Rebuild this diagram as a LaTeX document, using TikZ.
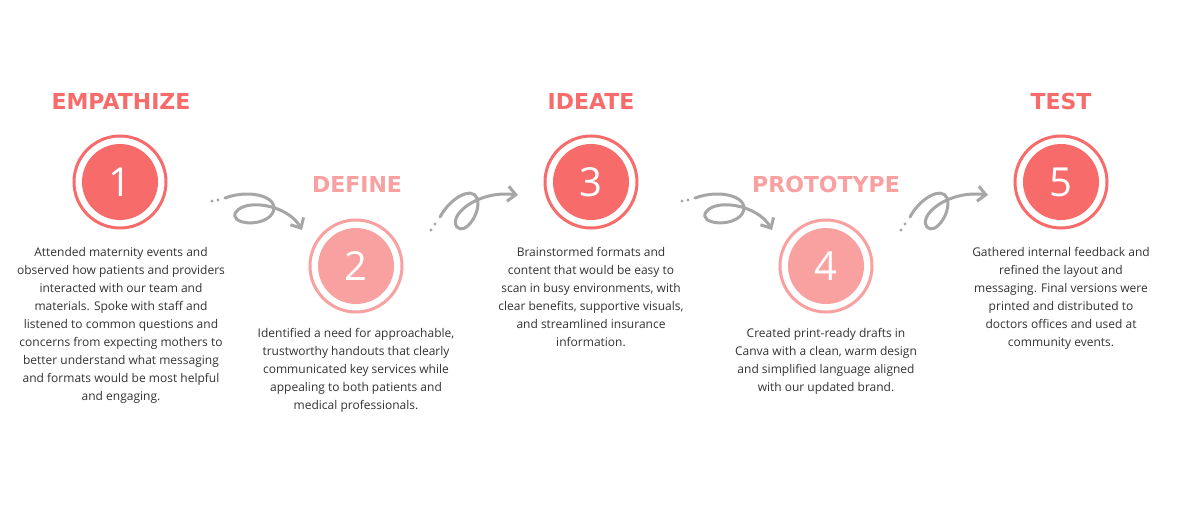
\documentclass[tikz,border=0pt]{standalone}
\usepackage{fontspec}
\setmainfont{Open Sans}
\newfontfamily\headfont{DejaVu Sans}
\usetikzlibrary{arrows.meta}
\definecolor{coral}{HTML}{F76B6B}
\definecolor{pinkl}{HTML}{F9A0A0}
\definecolor{txt}{HTML}{333333}
\definecolor{arr}{HTML}{A6A6A6}
\tikzset{
 ring/.style={circle,draw=#1,line width=3pt,minimum size=92pt,inner sep=0pt},
 disc/.style={circle,fill=#1,minimum size=76pt,inner sep=0pt,text=white,font=\fontsize{40}{40}\selectfont},
 head/.style={text=#1,font=\headfont\bfseries\fontsize{22}{22}\selectfont},
 body/.style={text=txt,align=center,font=\fontsize{12}{18}\selectfont},
 loop/.style={draw=arr,line width=3pt,line cap=round,-{Straight Barb[length=8pt,width=15pt,line width=3pt]}},
 dot/.style={circle,fill=arr,inner sep=0pt,minimum size=3.2pt}
}
\begin{document}
\begin{tikzpicture}[x=1pt,y=-1pt]
\useasboundingbox[fill=white] (0,0) rectangle (1183,505);
\foreach \n/\x/\y/\c in {1/120/182/coral,2/356/266/pinkl,3/591/182/coral,4/826/266/pinkl,5/1061/182/coral}{
 \node[ring=\c] (r\n) at (\x,\y) {};
 \node[disc=\c] (c\n) at (\x,\y) {\n};
}
\node[head=coral] (h1) at (121,101) {EMPATHIZE};
\node[head=pinkl] (h2) at (357,184) {DEFINE};
\node[head=coral] (h3) at (591,101) {IDEATE};
\node[head=pinkl] (h4) at (826,184) {PROTOTYPE};
\node[head=coral] (h5) at (1061,101) {TEST};
\node[body,anchor=north] (t1) at (121,244) {Attended maternity events and\\observed how patients and providers\\interacted with our team and\\materials. Spoke with staff and\\listened to common questions and\\concerns from expecting mothers to\\better understand what messaging\\and formats would be most helpful\\and engaging.};
\node[body,anchor=north] (t2) at (356,325) {Identified a need for approachable,\\trustworthy handouts that clearly\\communicated key services while\\appealing to both patients and\\medical professionals.};
\node[body,anchor=north] (t3) at (591,244) {Brainstormed formats and\\content that would be easy to\\scan in busy environments, with\\clear benefits, supportive visuals,\\and streamlined insurance\\information.};
\node[body,anchor=north] (t4) at (826,325) {Created print-ready drafts in\\Canva with a clean, warm design\\and simplified language aligned\\with our updated brand.};
\node[body,anchor=north] (t5) at (1061,244) {Gathered internal feedback and\\refined the layout and\\messaging. Final versions were\\printed and distributed to\\doctors offices and used at\\community events.};
\foreach \i/\ox in {1/0,3/470}{
 \begin{scope}[xshift=\ox pt]
 \node[dot] (da\i) at (212,201) {};
 \node[dot] (db\i) at (218,200) {};
 \coordinate (s\i) at (225,198);
 \coordinate (e\i) at (302,230);
 \draw[loop] (s\i) .. controls (252,188) and (282,198) .. (272,214) .. controls (262,228) and (228,224) .. (236,212) .. controls (246,198) and (288,205) .. (e\i);
 \end{scope}}
\foreach \i/\ox in {2/0,4/470}{
 \begin{scope}[xshift=\ox pt]
 \node[dot] (da\i) at (431,230) {};
 \node[dot] (db\i) at (435,224) {};
 \coordinate (s\i) at (440,217);
 \coordinate (e\i) at (518,195);
 \draw[loop] (s\i) .. controls (450,198) and (472,186) .. (477,198) .. controls (482,212) and (465,236) .. (457,227) .. controls (448,215) and (478,190) .. (e\i);
 \end{scope}}
\end{tikzpicture}
\end{document}
